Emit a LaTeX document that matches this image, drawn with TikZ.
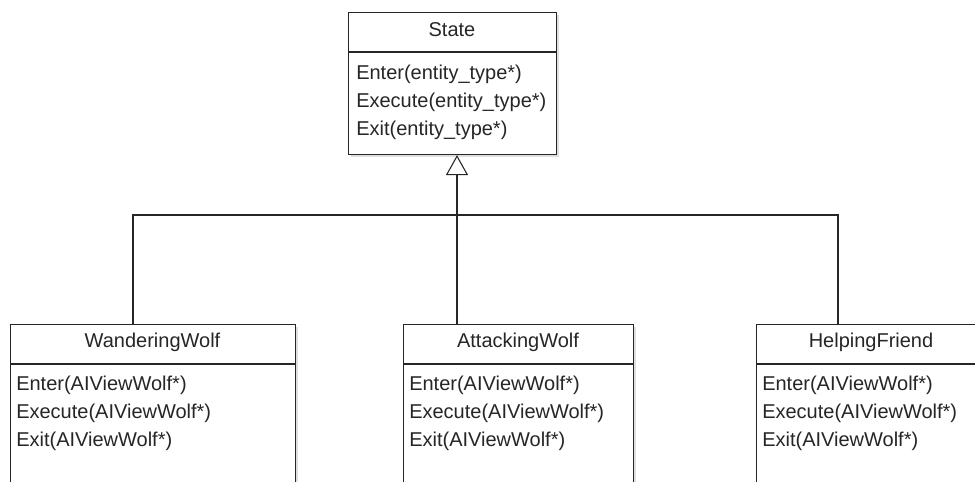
\documentclass[tikz,border=0pt]{standalone}
\usepackage{fontspec}
\setmainfont{Liberation Sans}
\usetikzlibrary{arrows.meta,shadows}
\begin{document}
\begin{tikzpicture}[x=0.75pt,y=-0.75pt,
  classbox/.style={draw=black!85, line width=0.8pt, fill=white, inner sep=0pt, anchor=north west,
    drop shadow={shadow xshift=1.5pt, shadow yshift=-1.5pt, opacity=0.25}},
  divider/.style={draw=black!85, line width=0.8pt},
  mtext/.style={inner sep=0pt, anchor=base west, font=\fontsize{15pt}{18pt}\selectfont, text=black!85},
  ttext/.style={inner sep=0pt, anchor=base, font=\fontsize{15pt}{18pt}\selectfont, text=black!85},
  link/.style={draw=black!85, line width=0.8pt},
  inherit/.style={link, -{Triangle[open, length=15pt, width=16.5pt, line width=0.8pt]}}]
\useasboundingbox (0,0) rectangle (975,482);
\fill[white] (0,0) rectangle (975,482);
\clip (0,0) rectangle (975,482);

% State
\node[classbox, minimum width=156pt, minimum height=106.5pt] (state) at (348,12) {};
\draw[divider] (state.west |- 0,52) -- (state.east |- 0,52);
\node[ttext] (stitle) at (452,36) {State};
\node[mtext] (s1) at (356,79) {Enter(entity\_type*)};
\node[mtext] (s2) at (356,107) {Execute(entity\_type*)};
\node[mtext] (s3) at (356,135) {Exit(entity\_type*)};

% WanderingWolf
\node[classbox, minimum width=213.75pt, minimum height=132pt] (ww) at (10,324) {};
\draw[divider] (ww.west |- 0,364) -- (ww.east |- 0,364);
\node[ttext] (wtitle) at (152.5,347) {WanderingWolf};
\node[mtext] (w1) at (16,390) {Enter(AIViewWolf*)};
\node[mtext] (w2) at (16,418) {Execute(AIViewWolf*)};
\node[mtext] (w3) at (16,446) {Exit(AIViewWolf*)};

% AttackingWolf
\node[classbox, minimum width=172.5pt, minimum height=132pt] (aw) at (403,324) {};
\draw[divider] (aw.west |- 0,364) -- (aw.east |- 0,364);
\node[ttext] (atitle) at (518,347) {AttackingWolf};
\node[mtext] (a1) at (409,390) {Enter(AIViewWolf*)};
\node[mtext] (a2) at (409,418) {Execute(AIViewWolf*)};
\node[mtext] (a3) at (409,446) {Exit(AIViewWolf*)};

% HelpingFriend
\node[classbox, minimum width=172.5pt, minimum height=132pt] (hf) at (756,324) {};
\draw[divider] (hf.west |- 0,364) -- (hf.east |- 0,364);
\node[ttext] (htitle) at (871,347) {HelpingFriend};
\node[mtext] (h1) at (762,390) {Enter(AIViewWolf*)};
\node[mtext] (h2) at (762,418) {Execute(AIViewWolf*)};
\node[mtext] (h3) at (762,446) {Exit(AIViewWolf*)};

% connectors
\coordinate (j) at (457,215);
\coordinate (wtop) at (133,324);
\coordinate (atop) at (457,324);
\coordinate (htop) at (838,324);
\draw[inherit] (j) -- (state.south -| j);
\draw[link] (wtop) |- (j) -| (htop);
\draw[link] (atop) -- (j);
\end{tikzpicture}
\end{document}
